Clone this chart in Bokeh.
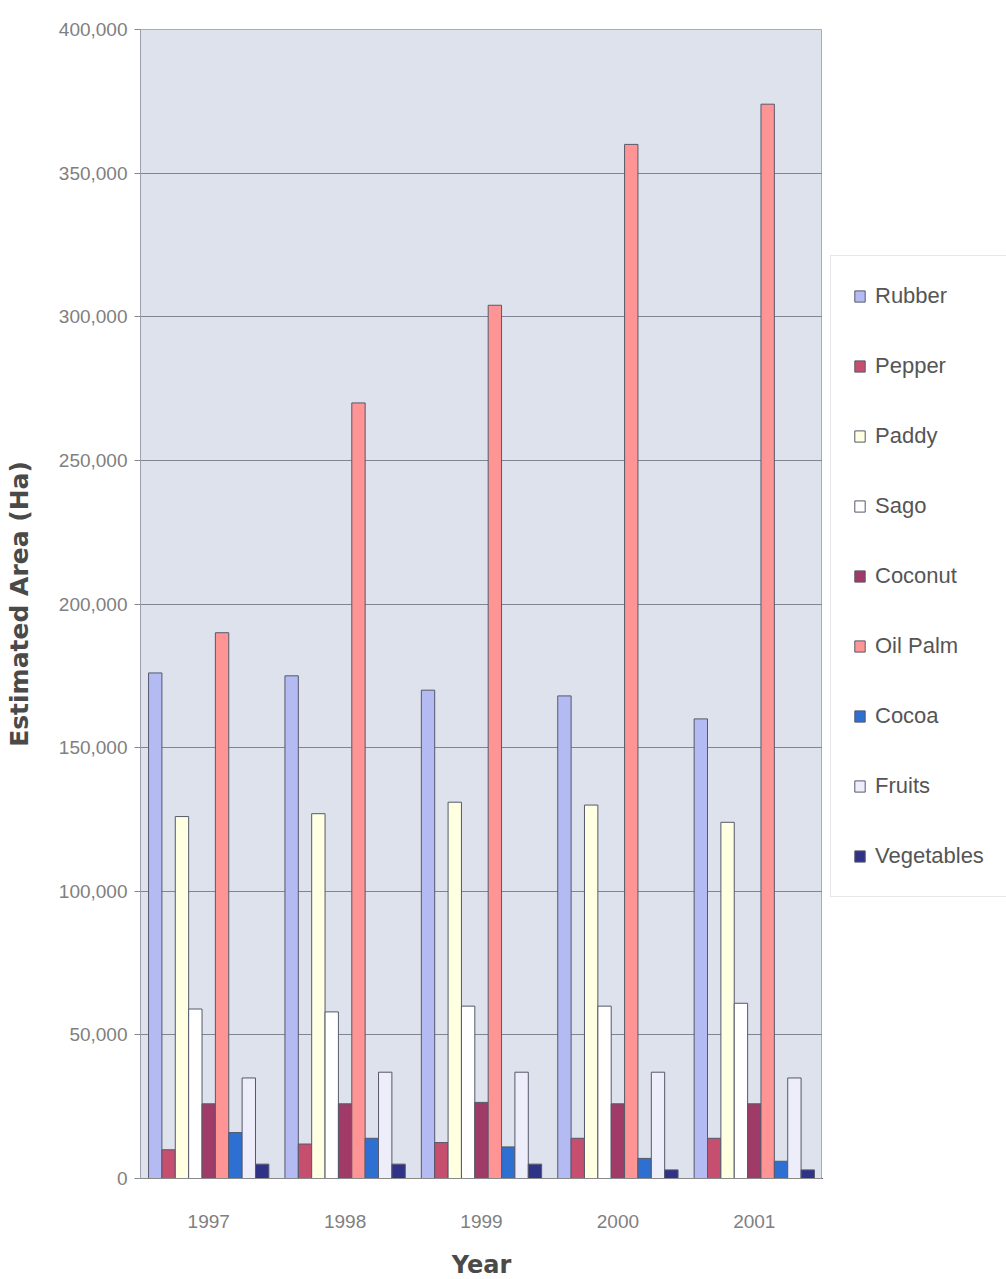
from bokeh.plotting import figure
from bokeh.layouts import row
from bokeh.models import (ColumnDataSource, FactorRange, FixedTicker, Legend,
                          LegendItem, NumeralTickFormatter)
from bokeh.transform import dodge
from bokeh.embed import file_html
from bokeh.resources import INLINE

# Estimated planted area (hectares) by crop, 1997-2001
years = ["1997", "1998", "1999", "2000", "2001"]
crops = ["Rubber", "Pepper", "Paddy", "Sago", "Coconut",
         "Oil Palm", "Cocoa", "Fruits", "Vegetables"]

rubber = [176000, 175000, 170000, 168000, 160000]
pepper = [10000, 12000, 12500, 14000, 14000]
paddy = [126000, 127000, 131000, 130000, 124000]
sago = [59000, 58000, 60000, 60000, 61000]
coconut = [26000, 26000, 26500, 26000, 26000]
oil_palm = [190000, 270000, 304000, 360000, 374000]
cocoa = [16000, 14000, 11000, 7000, 6000]
fruits = [35000, 37000, 37000, 37000, 35000]
vegetables = [5000, 5000, 5000, 3000, 3000]

series = [rubber, pepper, paddy, sago, coconut, oil_palm, cocoa, fruits, vegetables]
colors = ["#b4baf2", "#c64f70", "#ffffe2", "#ffffff", "#a03b68",
          "#ff9494", "#2e6fd2", "#eeeefb", "#2f3286"]

y_ticks = [0, 50000, 100000, 150000, 200000, 250000, 300000, 350000, 400000]

data = {"year": years}
for name, vals in zip(crops, series):
    data[name] = vals
source = ColumnDataSource(data)

p = figure(
    x_range=FactorRange(*years, range_padding=0),
    y_range=(0, 400000),
    frame_width=682, frame_height=1149,
    min_border_left=140, min_border_top=29,
    min_border_bottom=101, min_border_right=0,
    output_backend="svg", toolbar_location=None,
    background_fill_color="#dde2ec", border_fill_color="white",
)

bar_w = 0.098
for i, name in enumerate(crops):
    off = (i - 4) * bar_w
    p.vbar(x=dodge("year", off, range=p.x_range), top=name, width=bar_w,
           source=source, fill_color=colors[i], line_color="#55596a",
           line_width=1)

# grid and frame
p.xgrid.grid_line_color = None
p.ygrid.ticker = FixedTicker(ticks=y_ticks)
p.ygrid.grid_line_color = "#7f8593"
p.ygrid.grid_line_width = 1.2
p.outline_line_color = "#a6abba"

# y axis
p.yaxis.ticker = FixedTicker(ticks=y_ticks)
p.yaxis.formatter = NumeralTickFormatter(format="0,0")
p.yaxis.axis_label = "Estimated Area (Ha)"
p.yaxis.axis_label_text_font = "DejaVu Sans"
p.yaxis.axis_label_text_font_style = "bold"
p.yaxis.axis_label_text_font_size = "25px"
p.yaxis.axis_label_text_color = "#4a4a4a"
p.yaxis.axis_label_standoff = 22
p.yaxis.major_label_text_font = "Liberation Sans"
p.yaxis.major_label_text_font_size = "19px"
p.yaxis.major_label_text_color = "#808080"
p.yaxis.major_label_standoff = 7
p.yaxis.major_tick_out = 6
p.yaxis.major_tick_in = 0
p.yaxis.minor_tick_out = 0
p.yaxis.minor_tick_in = 0
p.yaxis.major_tick_line_color = "#8a8a8a"
p.yaxis.axis_line_color = "#9aa0b0"

# x axis
p.xaxis.axis_label = "Year"
p.xaxis.axis_label_text_font = "DejaVu Sans"
p.xaxis.axis_label_text_font_style = "bold"
p.xaxis.axis_label_text_font_size = "24px"
p.xaxis.axis_label_text_color = "#4a4a4a"
p.xaxis.axis_label_standoff = 20
p.xaxis.major_label_text_font = "Liberation Sans"
p.xaxis.major_label_text_font_size = "19px"
p.xaxis.major_label_text_color = "#808080"
p.xaxis.major_label_standoff = 36
p.xaxis.major_tick_out = 0
p.xaxis.major_tick_in = 0
p.xaxis.axis_line_color = "#8a8a8a"

# key panel to the right of the chart; its swatch renderers sit outside
# the panel's visible x range and only supply the legend glyph styles
key = figure(
    x_range=(0, 1), y_range=(0, 1),
    frame_width=184, frame_height=1149,
    min_border_left=0, min_border_right=0,
    min_border_top=29, min_border_bottom=101,
    x_axis_location=None, y_axis_location=None,
    output_backend="svg", toolbar_location=None,
    background_fill_color="white", border_fill_color="white",
)
key.grid.grid_line_color = None
key.outline_line_color = None

swatch_src = ColumnDataSource(dict(x=[-5.0], top=[-5.0]))
swatches = []
for i, name in enumerate(crops):
    r = key.vbar(x="x", top="top", width=0.1, source=swatch_src,
                 fill_color=colors[i], line_color="#55596a", line_width=1)
    swatches.append(r)

legend = Legend(
    items=[LegendItem(label=c, renderers=[r]) for c, r in zip(crops, swatches)],
    location=(8, 281),
    margin=0,
    padding=22,
    spacing=34,
    glyph_width=13, glyph_height=14,
    label_height=36,
    label_standoff=9,
    label_text_font="Liberation Sans",
    label_text_font_size="22px",
    label_text_color="#555555",
    border_line_color="#d0d0d0",
    background_fill_color="white",
)
key.add_layout(legend, "center")

layout = row(p, key)
open("out.html", "w").write(file_html(layout, INLINE))
